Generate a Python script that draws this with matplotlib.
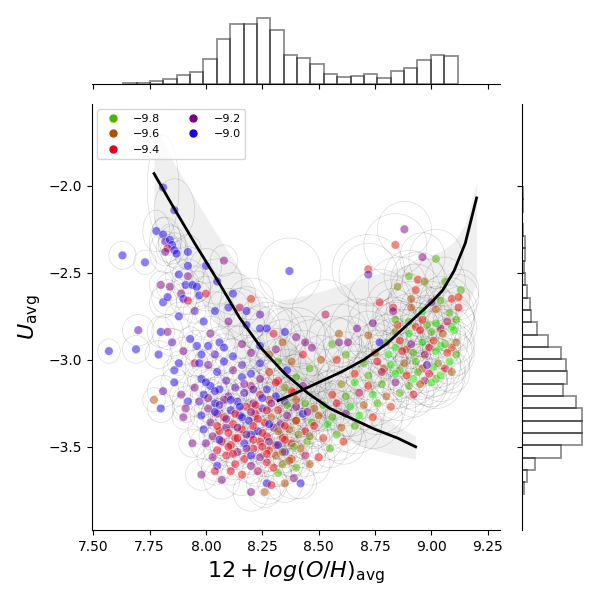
import numpy as np
import matplotlib
matplotlib.use("Agg")
import matplotlib.pyplot as plt
from matplotlib.patches import Ellipse
from matplotlib.collections import PatchCollection
from matplotlib.lines import Line2D
from matplotlib.colors import Normalize

# ---- scatter data: oxygen abundance (x), ionisation parameter (y), hue value (z), errors (ex, ey)
# upper-left tail
tail_x = [7.81, 7.86, 7.63, 7.73, 7.78, 7.81, 7.82, 7.84, 7.85, 7.83,
          7.86, 7.87, 7.82, 7.92, 7.92, 7.88, 8.00, 8.08, 8.37, 7.81,
          7.83, 7.80, 7.91, 7.94, 7.96, 7.92, 7.89, 7.97, 8.00, 7.90,
          7.92, 7.80, 7.83, 7.57, 7.69, 7.70, 7.79, 7.77, 7.80, 7.81,
          7.86, 7.86, 7.89, 7.92, 7.91, 7.90, 7.94, 7.98, 7.88, 7.95,
          7.99, 7.85, 7.93, 7.90, 7.96, 7.88, 7.95, 7.98, 8.02, 8.04,
          8.06, 8.10, 8.12, 8.15, 8.18, 8.05, 8.20, 8.24, 8.10, 7.84]
tail_y = [-2.01, -2.14, -2.40, -2.44, -2.26, -2.28, -2.32, -2.31, -2.34, -2.36,
          -2.37, -2.39, -2.38, -2.38, -2.46, -2.51, -2.46, -2.43, -2.49, -2.67,
          -2.64, -2.57, -2.57, -2.57, -2.58, -2.52, -2.62, -2.63, -2.62, -2.65,
          -2.66, -2.84, -2.84, -2.95, -2.94, -2.83, -2.97, -3.23, -3.28, -3.18,
          -3.06, -3.13, -3.20, -3.24, -3.28, -3.33, -3.48, -3.66, -2.75, -2.72,
          -2.78, -2.90, -2.88, -2.95, -2.92, -3.02, -3.02, -2.97, -2.85, -2.72,
          -2.90, -2.78, -2.62, -2.70, -2.80, -2.55, -2.65, -2.74, -2.70, -2.58]
tail_z = [-9.0, -9.0, -9.0, -9.0, -9.0, -9.0, -9.1, -9.0, -9.0, -9.3,
          -9.0, -9.0, -9.2, -9.0, -9.0, -9.0, -9.0, -9.2, -9.0, -9.0,
          -9.0, -9.2, -9.0, -9.0, -9.0, -9.2, -9.2, -9.0, -9.4, -9.0,
          -9.4, -9.0, -9.2, -9.0, -9.0, -9.1, -9.0, -9.6, -9.0, -9.1,
          -9.0, -9.0, -9.2, -9.0, -9.2, -9.2, -9.2, -9.2, -9.0, -9.1,
          -9.0, -9.1, -9.0, -9.2, -9.0, -9.0, -9.3, -9.0, -9.2, -9.0,
          -9.0, -9.2, -9.0, -9.3, -9.0, -9.0, -9.5, -9.1, -9.0, -9.2]
tail_ex = [0.07, 0.09, 0.06, 0.05, 0.06, 0.05, 0.07, 0.05, 0.06, 0.05,
           0.06, 0.05, 0.07, 0.06, 0.08, 0.06, 0.07, 0.06, 0.14, 0.06,
           0.07, 0.05, 0.06, 0.08, 0.06, 0.07, 0.06, 0.05, 0.07, 0.06,
           0.05, 0.06, 0.07, 0.05, 0.06, 0.07, 0.06, 0.05, 0.06, 0.07,
           0.05, 0.06, 0.05, 0.07, 0.06, 0.05, 0.06, 0.07, 0.06, 0.05,
           0.07, 0.06, 0.05, 0.06, 0.07, 0.05, 0.06, 0.07, 0.08, 0.09,
           0.07, 0.08, 0.10, 0.09, 0.08, 0.11, 0.10, 0.08, 0.09, 0.06]
tail_ey = [0.30, 0.18, 0.08, 0.07, 0.12, 0.10, 0.14, 0.09, 0.11, 0.08,
           0.10, 0.09, 0.12, 0.10, 0.11, 0.09, 0.10, 0.09, 0.19, 0.09,
           0.10, 0.08, 0.09, 0.11, 0.09, 0.10, 0.08, 0.08, 0.10, 0.09,
           0.08, 0.09, 0.10, 0.07, 0.08, 0.09, 0.08, 0.07, 0.08, 0.09,
           0.07, 0.08, 0.07, 0.09, 0.08, 0.07, 0.08, 0.09, 0.08, 0.07,
           0.09, 0.08, 0.07, 0.08, 0.09, 0.07, 0.08, 0.09, 0.10, 0.11,
           0.09, 0.10, 0.12, 0.11, 0.10, 0.13, 0.12, 0.10, 0.11, 0.08]

# dense low-metallicity core (one line per row of the cloud)
core_x = [8.01, 8.08, 8.16, 8.24, 8.31,
          8.04, 8.12, 8.20, 8.28,
          7.97, 8.01, 8.08, 8.16, 8.24, 8.32,
          8.05, 8.12, 8.20, 8.28, 8.36,
          7.98, 8.09, 8.16, 8.24, 8.32, 8.40,
          7.95, 8.02, 8.06, 8.13, 8.20, 8.27, 8.35, 8.43,
          7.99, 8.10, 8.17, 8.24, 8.31, 8.39,
          7.97, 8.04, 8.08, 8.14, 8.21, 8.28, 8.35, 8.44,
          8.01, 8.11, 8.18, 8.25, 8.32, 8.40, 8.48,
          7.98, 8.05, 8.08, 8.15, 8.22, 8.29, 8.36, 8.43,
          8.02, 8.12, 8.19, 8.26, 8.33, 8.40, 8.47,
          7.99, 8.06, 8.09, 8.16, 8.23, 8.30, 8.37, 8.44,
          8.03, 8.13, 8.20, 8.27, 8.34, 8.41,
          8.00, 8.07, 8.11, 8.17, 8.24, 8.31, 8.38, 8.45,
          8.05, 8.14, 8.21, 8.28, 8.35, 8.42,
          8.03, 8.09, 8.17, 8.24, 8.31, 8.38,
          8.13, 8.20, 8.27, 8.34]
core_y = [-2.92, -2.93, -2.91, -2.92, -2.94,
          -2.97, -2.98, -2.96, -2.97,
          -3.02, -3.03, -3.01, -3.03, -3.02, -3.01,
          -3.07, -3.06, -3.08, -3.07, -3.06,
          -3.11, -3.12, -3.10, -3.11, -3.12, -3.10,
          -3.16, -3.15, -3.17, -3.16, -3.15, -3.17, -3.16, -3.15,
          -3.20, -3.21, -3.19, -3.20, -3.21, -3.19,
          -3.24, -3.25, -3.23, -3.24, -3.25, -3.23, -3.24, -3.25,
          -3.28, -3.29, -3.27, -3.28, -3.29, -3.27, -3.28,
          -3.32, -3.31, -3.33, -3.32, -3.31, -3.33, -3.32, -3.31,
          -3.36, -3.37, -3.35, -3.36, -3.37, -3.35, -3.36,
          -3.40, -3.41, -3.39, -3.40, -3.41, -3.39, -3.40, -3.41,
          -3.44, -3.45, -3.43, -3.44, -3.45, -3.43,
          -3.48, -3.47, -3.49, -3.48, -3.47, -3.49, -3.48, -3.47,
          -3.52, -3.53, -3.51, -3.52, -3.53, -3.51,
          -3.56, -3.55, -3.57, -3.56, -3.55, -3.57,
          -3.60, -3.61, -3.59, -3.60]
core_z = [-9.0, -9.0, -9.2, -9.0, -9.2,
          -9.1, -9.0, -9.2, -9.6,
          -9.0, -9.2, -9.0, -9.1, -9.0, -9.8,
          -9.0, -9.2, -9.0, -9.5, -9.0,
          -9.0, -9.1, -9.0, -9.2, -9.4, -9.8,
          -9.2, -9.0, -9.0, -9.1, -9.3, -9.0, -9.7, -9.2,
          -9.0, -9.2, -9.1, -9.4, -9.0, -9.4,
          -9.1, -9.0, -9.2, -9.0, -9.2, -9.5, -9.1, -9.8,
          -9.2, -9.0, -9.4, -9.1, -9.4, -9.2, -9.6,
          -9.0, -9.2, -9.4, -9.1, -9.4, -9.6, -9.2, -9.0,
          -9.2, -9.4, -9.0, -9.4, -9.2, -9.5, -9.8,
          -9.0, -9.4, -9.2, -9.4, -9.0, -9.2, -9.6, -9.4,
          -9.2, -9.4, -9.0, -9.4, -9.4, -9.7,
          -9.2, -9.4, -9.4, -9.0, -9.4, -9.5, -9.4, -9.8,
          -9.4, -9.2, -9.4, -9.5, -9.0, -9.6,
          -9.2, -9.4, -9.4, -9.2, -9.6, -9.5,
          -9.4, -9.2, -9.4, -9.7]
core_ex = [0.07, 0.06, 0.08, 0.07, 0.09,
           0.06, 0.08, 0.07, 0.09,
           0.06, 0.07, 0.05, 0.08, 0.07, 0.10,
           0.07, 0.06, 0.08, 0.07, 0.09,
           0.06, 0.07, 0.08, 0.06, 0.09, 0.10,
           0.05, 0.07, 0.06, 0.08, 0.07, 0.09, 0.08, 0.10,
           0.06, 0.08, 0.07, 0.06, 0.09, 0.08,
           0.07, 0.05, 0.08, 0.06, 0.07, 0.09, 0.08, 0.10,
           0.06, 0.08, 0.07, 0.09, 0.06, 0.08, 0.10,
           0.05, 0.07, 0.06, 0.08, 0.07, 0.09, 0.08, 0.10,
           0.06, 0.08, 0.07, 0.06, 0.09, 0.08, 0.11,
           0.07, 0.05, 0.08, 0.06, 0.07, 0.09, 0.08, 0.10,
           0.06, 0.08, 0.07, 0.09, 0.06, 0.08,
           0.07, 0.06, 0.08, 0.07, 0.09, 0.06, 0.08, 0.10,
           0.06, 0.08, 0.07, 0.09, 0.07, 0.08,
           0.07, 0.06, 0.08, 0.07, 0.09, 0.08,
           0.07, 0.08, 0.06, 0.09]
core_ey = [0.09, 0.08, 0.11, 0.09, 0.12,
           0.08, 0.10, 0.09, 0.12,
           0.08, 0.09, 0.07, 0.11, 0.09, 0.13,
           0.09, 0.08, 0.10, 0.09, 0.12,
           0.08, 0.09, 0.11, 0.08, 0.12, 0.13,
           0.07, 0.09, 0.08, 0.10, 0.09, 0.12, 0.11, 0.13,
           0.08, 0.10, 0.09, 0.08, 0.12, 0.10,
           0.09, 0.07, 0.10, 0.08, 0.09, 0.12, 0.11, 0.13,
           0.08, 0.10, 0.09, 0.12, 0.08, 0.10, 0.13,
           0.07, 0.09, 0.08, 0.10, 0.09, 0.12, 0.11, 0.13,
           0.08, 0.10, 0.09, 0.08, 0.12, 0.10, 0.14,
           0.09, 0.07, 0.10, 0.08, 0.09, 0.12, 0.11, 0.13,
           0.08, 0.10, 0.09, 0.12, 0.08, 0.10,
           0.09, 0.08, 0.10, 0.09, 0.12, 0.08, 0.11, 0.13,
           0.08, 0.10, 0.09, 0.12, 0.09, 0.11,
           0.09, 0.08, 0.11, 0.09, 0.12, 0.10,
           0.09, 0.10, 0.08, 0.12]

# extra points in the densest parts of both sequences
dense_x = [8.00, 8.17, 8.31,
           8.04, 8.21, 8.38,
           8.01, 8.11, 8.25, 8.40,
           8.06, 8.15, 8.22, 8.29, 8.36,
           8.04, 8.13, 8.20, 8.27, 8.45,
           8.09, 8.16, 8.23, 8.40,
           8.05, 8.14, 8.21, 8.28, 8.35,
           8.10, 8.18, 8.25, 8.32,
           8.06, 8.14, 8.21, 8.28, 8.35,
           8.10, 8.18, 8.25, 8.32, 8.39,
           8.12, 8.20, 8.27, 8.34,
           8.93, 8.98, 9.04, 9.09,
           8.84, 8.89, 8.99, 9.04, 9.09,
           8.79, 8.86, 8.96, 9.01, 9.06,
           8.92, 8.97, 9.02]
dense_y = [-3.13, -3.14, -3.13,
           -3.18, -3.17, -3.18,
           -3.22, -3.23, -3.22, -3.23,
           -3.26, -3.27, -3.26, -3.25, -3.26,
           -3.30, -3.31, -3.30, -3.29, -3.30,
           -3.34, -3.33, -3.34, -3.35,
           -3.38, -3.39, -3.38, -3.37, -3.38,
           -3.42, -3.43, -3.42, -3.41,
           -3.46, -3.45, -3.46, -3.47, -3.46,
           -3.50, -3.51, -3.50, -3.49, -3.50,
           -3.54, -3.55, -3.54, -3.53,
           -2.81, -2.80, -2.82, -2.81,
           -2.93, -2.94, -2.93, -2.92, -2.93,
           -3.05, -3.06, -3.05, -3.04, -3.05,
           -3.11, -3.12, -3.11]
dense_z = [-9.0, -9.2, -9.4,
           -9.0, -9.1, -9.5,
           -9.2, -9.0, -9.0, -9.6,
           -9.1, -9.0, -9.4, -9.2, -9.8,
           -9.0, -9.4, -9.2, -9.4, -9.2,
           -9.2, -9.0, -9.4, -9.6,
           -9.4, -9.2, -9.4, -9.0, -9.4,
           -9.4, -9.2, -9.4, -9.6,
           -9.0, -9.4, -9.4, -9.2, -9.5,
           -9.4, -9.2, -9.4, -9.0, -9.8,
           -9.4, -9.0, -9.4, -9.6,
           -9.5, -9.8, -9.3, -9.9,
           -9.9, -9.6, -9.4, -9.9, -9.5,
           -9.6, -9.8, -9.5, -9.9, -9.4,
           -9.9, -9.3, -9.8]
dense_ex = [0.07, 0.08, 0.06,
            0.06, 0.09, 0.07,
            0.08, 0.06, 0.07, 0.09,
            0.07, 0.08, 0.06, 0.09, 0.07,
            0.06, 0.07, 0.08, 0.06, 0.09,
            0.08, 0.06, 0.07, 0.09,
            0.07, 0.08, 0.06, 0.07, 0.09,
            0.06, 0.08, 0.07, 0.09,
            0.07, 0.06, 0.08, 0.07, 0.09,
            0.08, 0.07, 0.06, 0.09, 0.08,
            0.07, 0.08, 0.06, 0.09,
            0.10, 0.12, 0.09, 0.11,
            0.12, 0.10, 0.11, 0.09, 0.10,
            0.11, 0.13, 0.10, 0.12, 0.09,
            0.11, 0.10, 0.12]
dense_ey = [0.09, 0.11, 0.08,
            0.08, 0.12, 0.09,
            0.11, 0.08, 0.09, 0.12,
            0.09, 0.11, 0.08, 0.12, 0.09,
            0.08, 0.09, 0.11, 0.08, 0.12,
            0.11, 0.08, 0.09, 0.12,
            0.09, 0.11, 0.08, 0.09, 0.12,
            0.08, 0.11, 0.09, 0.12,
            0.09, 0.08, 0.11, 0.09, 0.12,
            0.11, 0.09, 0.08, 0.12, 0.11,
            0.09, 0.11, 0.08, 0.12,
            0.14, 0.17, 0.13, 0.15,
            0.17, 0.14, 0.15, 0.13, 0.14,
            0.15, 0.18, 0.14, 0.17, 0.13,
            0.15, 0.14, 0.17]

# high-metallicity branch
branch_x = [9.04, 9.09,
            8.96, 9.02, 9.08, 9.12,
            8.90, 8.96, 9.02, 9.07, 9.11,
            8.84, 8.90, 8.95, 9.00, 9.05, 9.10,
            8.80, 8.86, 8.91, 8.96, 9.01, 9.06, 9.11,
            8.75, 8.81, 8.87, 8.92, 8.97, 9.02, 9.07, 9.11,
            8.70, 8.76, 8.82, 8.88, 8.93, 8.98, 9.03, 9.08,
            8.66, 8.72, 8.78, 8.84, 8.89, 8.94, 8.99, 9.04, 9.09,
            8.60, 8.66, 8.72, 8.78, 8.84, 8.90, 8.95, 9.00,
            8.56, 8.62, 8.68, 8.74, 8.80, 8.86, 8.92,
            8.52, 8.58, 8.64, 8.70, 8.76, 8.82,
            8.50, 8.56, 8.62, 8.68, 8.74,
            8.48, 8.54, 8.60, 8.66,
            8.46, 8.52, 8.58]
branch_y = [-2.66, -2.65,
            -2.72, -2.71, -2.73, -2.70,
            -2.78, -2.77, -2.79, -2.78, -2.77,
            -2.84, -2.85, -2.83, -2.84, -2.85, -2.83,
            -2.90, -2.89, -2.91, -2.90, -2.89, -2.91, -2.90,
            -2.96, -2.97, -2.95, -2.96, -2.97, -2.95, -2.96, -2.97,
            -3.02, -3.01, -3.03, -3.02, -3.01, -3.03, -3.02, -3.01,
            -3.08, -3.09, -3.07, -3.08, -3.09, -3.07, -3.08, -3.09, -3.07,
            -3.14, -3.13, -3.15, -3.14, -3.13, -3.15, -3.14, -3.13,
            -3.20, -3.21, -3.19, -3.20, -3.21, -3.19, -3.20,
            -3.26, -3.25, -3.27, -3.26, -3.25, -3.27,
            -3.32, -3.33, -3.31, -3.32, -3.33,
            -3.38, -3.37, -3.39, -3.38,
            -3.44, -3.45, -3.43]
branch_z = [-9.8, -9.5,
            -9.9, -9.6, -9.8, -9.4,
            -9.8, -9.5, -9.9, -9.3, -9.8,
            -9.7, -9.9, -9.4, -9.8, -9.6, -9.9,
            -9.8, -9.5, -9.2, -9.9, -9.5, -9.8, -9.6,
            -9.6, -9.9, -9.4, -9.8, -9.3, -9.9, -9.5, -9.8,
            -9.8, -9.4, -9.9, -9.6, -9.8, -9.1, -9.7, -9.9,
            -9.5, -9.8, -9.3, -9.9, -9.5, -9.8, -9.4, -9.9, -9.6,
            -9.7, -9.9, -9.5, -9.8, -9.2, -9.8, -9.6, -9.9,
            -9.5, -9.8, -9.3, -9.9, -9.6, -9.8, -9.4,
            -9.8, -9.4, -9.9, -9.6, -9.8, -9.5,
            -9.6, -9.8, -9.2, -9.9, -9.5,
            -9.4, -9.9, -9.6, -9.8,
            -9.7, -9.5, -9.8]
branch_ex = [0.09, 0.08,
             0.10, 0.09, 0.11, 0.08,
             0.11, 0.09, 0.10, 0.12, 0.08,
             0.12, 0.10, 0.09, 0.11, 0.10, 0.08,
             0.11, 0.13, 0.10, 0.09, 0.12, 0.10, 0.08,
             0.12, 0.10, 0.11, 0.09, 0.13, 0.10, 0.11, 0.08,
             0.11, 0.13, 0.10, 0.12, 0.09, 0.11, 0.10, 0.09,
             0.12, 0.10, 0.13, 0.11, 0.09, 0.12, 0.10, 0.11, 0.08,
             0.11, 0.13, 0.10, 0.12, 0.11, 0.09, 0.12, 0.10,
             0.10, 0.12, 0.11, 0.13, 0.10, 0.12, 0.09,
             0.11, 0.09, 0.12, 0.10, 0.13, 0.11,
             0.10, 0.12, 0.09, 0.11, 0.13,
             0.09, 0.11, 0.10, 0.12,
             0.10, 0.09, 0.11]
branch_ey = [0.14, 0.12,
             0.15, 0.13, 0.16, 0.12,
             0.16, 0.13, 0.15, 0.17, 0.12,
             0.17, 0.14, 0.13, 0.16, 0.14, 0.12,
             0.16, 0.18, 0.14, 0.13, 0.17, 0.14, 0.12,
             0.17, 0.14, 0.16, 0.13, 0.18, 0.14, 0.15, 0.12,
             0.16, 0.18, 0.14, 0.17, 0.13, 0.15, 0.14, 0.13,
             0.17, 0.14, 0.18, 0.15, 0.13, 0.16, 0.14, 0.15, 0.12,
             0.15, 0.18, 0.14, 0.17, 0.15, 0.13, 0.16, 0.14,
             0.14, 0.17, 0.15, 0.18, 0.14, 0.16, 0.13,
             0.15, 0.13, 0.17, 0.14, 0.18, 0.15,
             0.14, 0.16, 0.13, 0.15, 0.18,
             0.13, 0.15, 0.14, 0.16,
             0.14, 0.13, 0.15]

# sparse points between / above the two sequences
sparse_x = [8.88, 8.84, 8.96, 9.02, 8.72, 8.72, 8.90, 8.94, 8.97, 8.85,
            9.06, 8.93, 8.77, 8.91, 8.83, 8.83, 8.91, 9.00, 8.53, 8.67,
            8.74, 8.85, 8.84, 8.59, 8.72, 8.77, 8.56, 8.59, 8.63, 8.47,
            8.43, 8.62, 8.58, 8.18, 8.27, 8.24, 8.30, 8.35, 8.40, 8.44,
            8.34, 8.46, 8.38, 8.51, 9.13, 9.12]
sparse_y = [-2.25, -2.34, -2.41, -2.42, -2.48, -2.51, -2.52, -2.54, -2.55, -2.58,
            -2.55, -2.60, -2.67, -2.65, -2.70, -2.72, -2.70, -2.67, -2.74, -2.82,
            -2.79, -2.80, -2.77, -2.85, -2.86, -2.90, -2.91, -2.90, -2.90, -2.93,
            -2.97, -2.97, -3.00, -2.72, -2.82, -2.82, -2.85, -2.84, -2.87, -2.90,
            -2.90, -3.05, -3.01, -3.00, -2.60, -2.64]
sparse_z = [-9.2, -9.5, -9.2, -9.8, -9.5, -9.1, -9.8, -9.5, -9.7, -9.7,
            -9.8, -9.5, -9.4, -9.6, -9.4, -9.2, -9.6, -9.2, -9.3, -9.2,
            -9.2, -9.5, -9.8, -9.6, -9.6, -9.0, -9.8, -9.2, -9.2, -9.2,
            -9.4, -9.8, -9.5, -9.0, -9.0, -9.0, -9.4, -9.0, -9.2, -9.2,
            -9.6, -9.8, -9.6, -9.6, -9.8, -9.5]
sparse_ex = [0.12, 0.14, 0.10, 0.12, 0.16, 0.13, 0.11, 0.12, 0.10, 0.13,
             0.09, 0.11, 0.14, 0.10, 0.12, 0.09, 0.11, 0.09, 0.15, 0.12,
             0.11, 0.10, 0.09, 0.13, 0.10, 0.09, 0.12, 0.10, 0.11, 0.12,
             0.10, 0.09, 0.10, 0.10, 0.11, 0.09, 0.12, 0.10, 0.13, 0.11,
             0.10, 0.11, 0.12, 0.10, 0.08, 0.09]
sparse_ey = [0.16, 0.18, 0.14, 0.17, 0.20, 0.18, 0.15, 0.16, 0.13, 0.17,
             0.14, 0.15, 0.19, 0.14, 0.16, 0.13, 0.15, 0.12, 0.20, 0.17,
             0.15, 0.14, 0.13, 0.17, 0.14, 0.13, 0.16, 0.14, 0.15, 0.16,
             0.14, 0.13, 0.14, 0.14, 0.15, 0.13, 0.16, 0.14, 0.17, 0.15,
             0.13, 0.15, 0.16, 0.14, 0.12, 0.13]

# bottom edge of the cloud
bottom_x = [8.20, 8.26, 8.27, 8.29, 8.35, 8.42, 8.39, 8.32, 8.05, 8.07,
            8.11, 8.16, 8.23, 8.30, 8.40, 8.46, 8.50, 8.55, 8.61, 8.04,
            8.37, 8.44]
bottom_y = [-3.76, -3.76, -3.71, -3.72, -3.71, -3.71, -3.68, -3.65, -3.61, -3.69,
            -3.64, -3.66, -3.64, -3.62, -3.62, -3.60, -3.56, -3.51, -3.47, -3.64,
            -3.58, -3.55]
bottom_z = [-9.2, -9.6, -9.0, -9.4, -9.6, -9.0, -9.2, -9.8, -9.0, -9.2,
            -9.4, -9.5, -9.3, -9.5, -9.8, -9.6, -9.4, -9.8, -9.5, -9.4,
            -9.6, -9.3]
bottom_ex = [0.08, 0.07, 0.09, 0.06, 0.08, 0.07, 0.09, 0.06, 0.07, 0.08,
             0.06, 0.09, 0.07, 0.08, 0.06, 0.09, 0.07, 0.08, 0.10, 0.06,
             0.07, 0.09]
bottom_ey = [0.11, 0.09, 0.12, 0.08, 0.11, 0.09, 0.12, 0.08, 0.09, 0.11,
             0.08, 0.12, 0.09, 0.11, 0.08, 0.12, 0.09, 0.11, 0.13, 0.08,
             0.09, 0.12]

# ---- fitted sequences with their confidence bands
low_fit_x = [7.77, 7.85, 7.95, 8.05, 8.15, 8.25, 8.35, 8.45, 8.55, 8.65, 8.75, 8.85, 8.93]
low_fit_y = [-1.93, -2.11, -2.33, -2.54, -2.76, -2.94, -3.08, -3.19, -3.28, -3.34, -3.40, -3.45, -3.50]
low_fit_hi = [-1.62, -1.85, -2.07, -2.28, -2.48, -2.66, -2.85, -3.00, -3.12, -3.22, -3.30, -3.38, -3.44]
low_fit_lo = [-2.25, -2.40, -2.60, -2.80, -3.00, -3.15, -3.27, -3.36, -3.42, -3.48, -3.52, -3.55, -3.57]

high_fit_x = [8.32, 8.40, 8.50, 8.60, 8.70, 8.80, 8.90, 9.00, 9.05, 9.10, 9.15, 9.20]
high_fit_y = [-3.235, -3.19, -3.13, -3.07, -3.00, -2.91, -2.79, -2.67, -2.60, -2.49, -2.33, -2.07]
high_fit_hi = [-2.66, -2.64, -2.61, -2.57, -2.53, -2.49, -2.45, -2.40, -2.37, -2.32, -2.22, -1.98]
high_fit_lo = [-3.62, -3.52, -3.42, -3.32, -3.22, -3.12, -3.02, -2.93, -2.88, -2.81, -2.70, -2.58]

# ---- marginal histograms (bar heights)
hist_x_range = (7.633, 9.116)
hist_x_counts = [1, 1, 9, 14, 26, 36, 74, 134, 179, 179, 198, 161, 87, 77, 60,
                 29, 20, 23, 29, 17, 38, 48, 72, 87, 84]
hist_y_range = (-3.774, -2.007)
hist_y_counts = [5, 14, 38, 116, 179, 179, 179, 159, 122, 134, 131, 116, 77, 45, 27,
                 23, 14, 9, 5, 9, 9, 3, 0, 3, 3]

legend_vals = [-9.8, -9.6, -9.4, -9.2, -9.0]

# ---- assemble
x = np.concatenate([tail_x, core_x, dense_x, branch_x, sparse_x, bottom_x])
y = np.concatenate([tail_y, core_y, dense_y, branch_y, sparse_y, bottom_y])
z = np.concatenate([tail_z, core_z, dense_z, branch_z, sparse_z, bottom_z])
ex = np.concatenate([tail_ex, core_ex, dense_ex, branch_ex, sparse_ex, bottom_ex])
ey = np.concatenate([tail_ey, core_ey, dense_ey, branch_ey, sparse_ey, bottom_ey])
assert len(x) == len(y) == len(z) == len(ex) == len(ey), (len(x), len(y), len(z), len(ex), len(ey))

cmap = plt.get_cmap("brg_r")
norm = Normalize(vmin=-9.95, vmax=-8.95)

fig = plt.figure(figsize=(6, 6), dpi=100)
ax = fig.add_axes([0.153, 0.117, 0.68, 0.71])
ax_top = fig.add_axes([0.153, 0.8605, 0.68, 0.136], sharex=ax)
ax_right = fig.add_axes([0.8705, 0.117, 0.1295, 0.71], sharey=ax)

# confidence bands
ax.fill_between(low_fit_x, low_fit_lo, low_fit_hi, color="grey", alpha=0.12, lw=0, zorder=0)
ax.fill_between(high_fit_x, high_fit_lo, high_fit_hi, color="grey", alpha=0.12, lw=0, zorder=0)

# error ellipses
ells = [Ellipse((xi, yi), 2 * exi, 2 * eyi) for xi, yi, exi, eyi in zip(x, y, ex, ey)]
ax.add_collection(PatchCollection(ells, facecolor="none", edgecolor="k",
                                  linewidth=0.5, alpha=0.14, zorder=1))

# points
ax.scatter(x, y, c=z, cmap=cmap, norm=norm, s=38, alpha=0.5,
           edgecolors="w", linewidths=0.5, zorder=2)

# fitted lines
ax.plot(low_fit_x, low_fit_y, color="k", lw=2, zorder=3)
ax.plot(high_fit_x, high_fit_y, color="k", lw=2, zorder=3)

ax.set_xlim(7.494, 9.303)
ax.set_ylim(-3.977, -1.529)
ax.set_xticks(np.arange(7.5, 9.26, 0.25))
ax.set_yticks([-3.5, -3.0, -2.5, -2.0])
ax.xaxis.set_major_formatter(plt.FormatStrFormatter("%.2f"))
ax.spines["top"].set_visible(False)
ax.spines["right"].set_visible(False)
ax.set_xlabel(r"$12+log(O/H)_{\rm avg}$", fontsize=16)
ax.set_ylabel(r"$U_{\rm avg}$", fontsize=16)

handles = [Line2D([], [], ls="", marker="o", ms=5, color=cmap(norm(v))) for v in legend_vals]
labels = [f"{v:.1f}".replace("-", "\u2212") for v in legend_vals]
ax.legend(handles, labels, loc="upper left", ncol=2, fontsize=8)

# marginal histograms
xe = np.linspace(hist_x_range[0], hist_x_range[1], len(hist_x_counts) + 1)
ax_top.bar(xe[:-1], hist_x_counts, width=np.diff(xe), align="edge", fill=False,
           edgecolor=(0, 0, 0, 0.45), linewidth=1.3)
ax_top.set_ylim(0, 245)
for s in ["top", "right", "left"]:
    ax_top.spines[s].set_visible(False)
ax_top.tick_params(axis="x", labelbottom=False)
ax_top.tick_params(axis="y", left=False, labelleft=False)

ye = np.linspace(hist_y_range[0], hist_y_range[1], len(hist_y_counts) + 1)
ax_right.barh(ye[:-1], hist_y_counts, height=np.diff(ye), align="edge", fill=False,
              edgecolor=(0, 0, 0, 0.45), linewidth=1.3)
ax_right.set_xlim(0, 232)
for s in ["top", "right", "bottom"]:
    ax_right.spines[s].set_visible(False)
ax_right.tick_params(axis="y", labelleft=False)
ax_right.tick_params(axis="x", bottom=False, labelbottom=False)

fig.savefig("out.png", dpi=100)
